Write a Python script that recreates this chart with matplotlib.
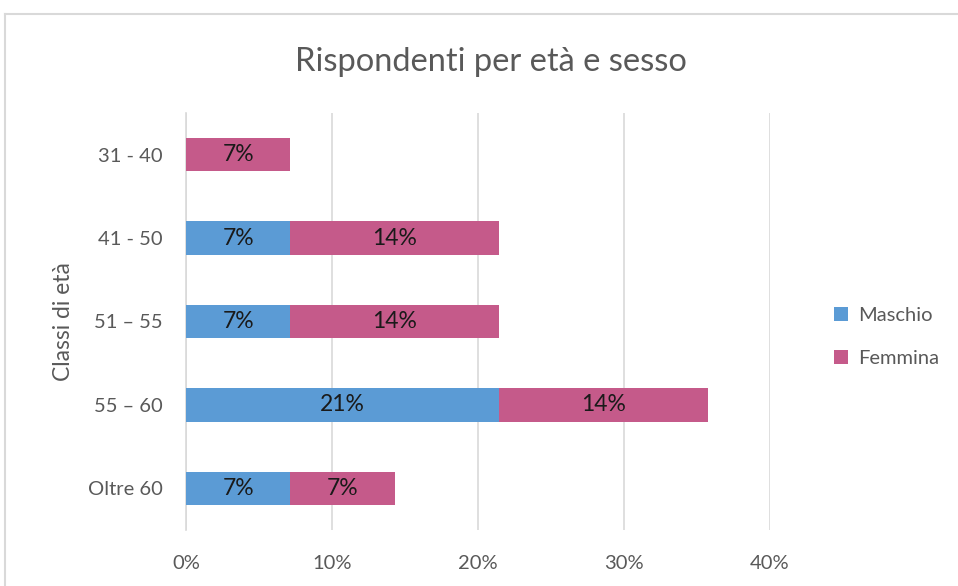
import matplotlib.pyplot as plt
from matplotlib.lines import Line2D
from matplotlib.ticker import PercentFormatter

plt.rcParams['font.family'] = ['Lato', 'DejaVu Sans']

# Data
classi = ['31 - 40', '41 - 50', '51 – 55', '55 – 60', 'Oltre 60']
maschio = [0.0, 0.0714, 0.0714, 0.2143, 0.0714]
femmina = [0.0714, 0.1429, 0.1429, 0.1429, 0.0714]

blu = '#5B9BD5'
rosa = '#C55A8A'
grigio = '#595959'

fig = plt.figure(figsize=(9.58, 5.86), dpi=100)
ax = fig.add_axes([0.1942, 0.0956, 0.6096, 0.7116])

y = list(range(len(classi)))
b1 = ax.barh(y, maschio, height=0.4, color=blu, label='Maschio', zorder=3)
b2 = ax.barh(y, femmina, left=maschio, height=0.4, color=rosa, label='Femmina', zorder=3)

ax.bar_label(b1, labels=[f'{v:.0%}' if v > 0 else '' for v in maschio],
             label_type='center', fontsize=16.5, color='#1a1a1a')
ax.bar_label(b2, labels=[f'{v:.0%}' for v in femmina],
             label_type='center', fontsize=16.5, color='#1a1a1a')

ax.set_ylim(len(classi) - 0.5, -0.5)
ax.set_xlim(0, 0.4)
ax.set_yticks(y)
ax.set_yticklabels(classi)
ax.set_xticks([0, 0.1, 0.2, 0.3, 0.4])
ax.xaxis.set_major_formatter(PercentFormatter(1.0, decimals=0))
ax.tick_params(axis='both', length=0, labelsize=14.5, labelcolor=grigio)
ax.tick_params(axis='y', pad=17)
ax.tick_params(axis='x', pad=18)

ax.grid(axis='x', color='#d9d9d9', linewidth=1.2, zorder=0)
for s in ['top', 'right', 'bottom']:
    ax.spines[s].set_visible(False)
ax.spines['left'].set_color('#d9d9d9')
ax.spines['left'].set_linewidth(1.2)

ax.set_ylabel('Classi di età', fontsize=16.5, color=grigio, labelpad=10)
fig.text(0.512, 0.895, 'Rispondenti per età e sesso', fontsize=23.5,
         color=grigio, ha='center', va='center')

leg = fig.legend(handles=[b1, b2], loc='center left', bbox_to_anchor=(0.852, 0.425),
                 frameon=False, fontsize=14.5, labelspacing=1.3,
                 handlelength=0.7, handleheight=0.7, handletextpad=0.5)
for t in leg.get_texts():
    t.set_color(grigio)

# chart border (cropped)
fig.add_artist(Line2D([5 / 958, 1], [1 - 14 / 586, 1 - 14 / 586], color='#d9d9d9', linewidth=1.5))
fig.add_artist(Line2D([5 / 958, 5 / 958], [0, 1 - 14 / 586], color='#d9d9d9', linewidth=1.5))

fig.savefig('out.png', dpi=100)
